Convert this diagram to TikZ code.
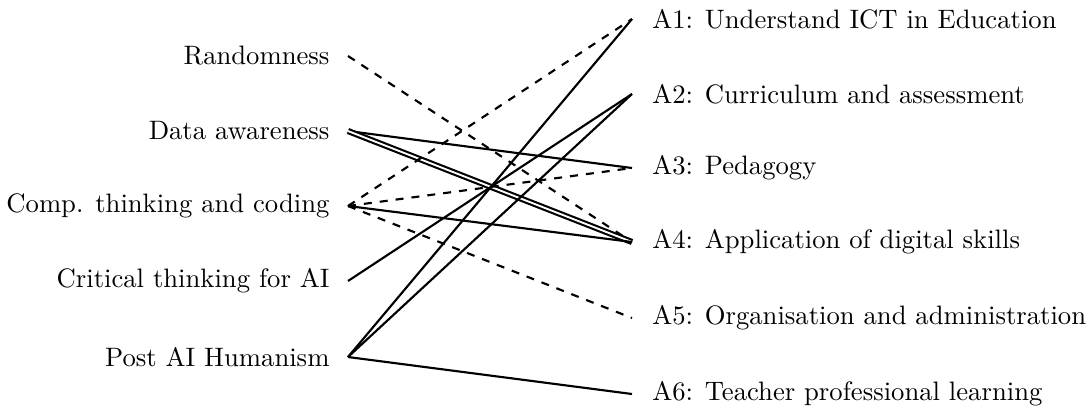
\documentclass[tikz,border=0pt]{standalone}
\begin{document}
\begin{tikzpicture}[x=0.375pt,y=-0.375pt,
  lnode/.style={anchor=east,inner xsep=6.75pt,inner ysep=0pt,font=\fontsize{10}{12}\selectfont},
  rnode/.style={anchor=west,inner xsep=7.4pt,inner ysep=0pt,font=\fontsize{10}{12}\selectfont},
  link/.style={thick},
  dlink/.style={thick,dashed},
  dbl/.style={thick,double,double distance=0.7pt}]
\useasboundingbox (0,0) rectangle (1086,410);
\node[lnode] (rand) at (348,56) {Randomness};
\node[lnode] (data) at (348,131) {Data awareness};
\node[lnode] (comp) at (348,206) {Comp. thinking and coding};
\node[lnode] (crit) at (348,281) {Critical thinking for AI};
\node[lnode] (post) at (348,357) {Post AI Humanism};
\node[rnode] (a1) at (632,19) {A1: Understand ICT in Education};
\node[rnode] (a2) at (632,94) {A2: Curriculum and assessment};
\node[rnode] (a3) at (632,168) {A3: Pedagogy};
\node[rnode] (a4) at (632,242) {A4: Application of digital skills};
\node[rnode] (a5) at (632,318) {A5: Organisation and administration};
\node[rnode] (a6) at (632,394) {A6: Teacher professional learning};
\draw[dlink] (rand.east) -- (a4.west);
\draw[link] (data.east) -- (a3.west);
\draw[dbl] (data.east) -- (a4.west);
\draw[dlink] (comp.east) -- (a1.west);
\draw[dlink] (comp.east) -- (a3.west);
\draw[link] (comp.east) -- (a4.west);
\draw[dlink] (comp.east) -- (a5.west);
\draw[link] (crit.east) -- (a2.west);
\draw[link] (post.east) -- (a1.west);
\draw[link] (post.east) -- (a2.west);
\draw[link] (post.east) -- (a6.west);
\end{tikzpicture}
\end{document}
